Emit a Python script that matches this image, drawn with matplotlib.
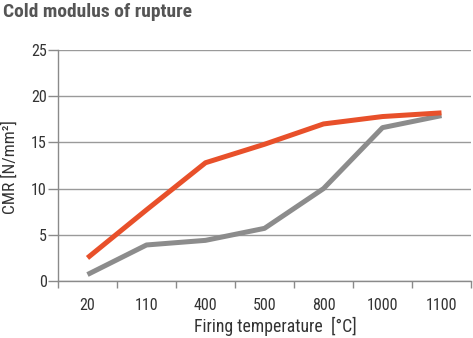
import numpy as np
import matplotlib.pyplot as plt

plt.rcParams['font.family'] = ['Roboto Condensed', 'DejaVu Sans']

temps = ['20', '110', '400', '500', '800', '1000', '1100']
cmr_orange = [2.5, 7.7, 12.8, 14.8, 17.0, 17.8, 18.2]
cmr_gray = [0.7, 3.9, 4.4, 5.7, 10.0, 16.6, 17.9]
yticks = [0, 5, 10, 15, 20, 25]

fig = plt.figure(figsize=(4.73, 3.38), dpi=100)
ax = fig.add_axes([0.1226, 0.1686, 0.8732, 0.6834])

x = np.arange(len(temps))
ax.plot(x, cmr_gray, color='#8c8c8c', lw=3.6, solid_capstyle='butt', zorder=3)
ax.plot(x, cmr_orange, color='#e8502a', lw=3.6, solid_capstyle='butt', zorder=4)

ax.set_xlim(-0.5, len(temps) - 0.5)
ax.set_ylim(0, 25)
ax.set_yticks(yticks)
ax.set_yticklabels([str(v) for v in yticks])
ax.set_xticks(x)
ax.set_xticklabels(temps)
ax.set_xticks(np.arange(len(temps) + 1) - 0.5, minor=True)

ax.yaxis.grid(True, color='#9a9a9a', lw=1)
ax.set_axisbelow(True)
for s in ['top', 'right']:
    ax.spines[s].set_visible(False)
for s in ['left', 'bottom']:
    ax.spines[s].set_color('#8a8a8a')
    ax.spines[s].set_linewidth(1)

ax.tick_params(axis='y', length=7, width=1, color='#8a8a8a', labelsize=11.5,
               labelcolor='#333333', pad=1)
ax.tick_params(axis='x', which='major', length=0, labelsize=11.5,
               labelcolor='#333333', pad=12)
ax.tick_params(axis='x', which='minor', length=5, width=1, color='#8a8a8a')

ax.set_xlabel('Firing temperature  [°C]', fontsize=12.8, color='#333333')
ax.xaxis.set_label_coords(0.526, -0.155)
ax.set_ylabel('CMR [N/mm²]', fontsize=12.5, color='#333333')
ax.yaxis.set_label_coords(-0.097, 0.495)

fig.text(0.006, 0.99, 'Cold modulus of rupture', fontsize=14, fontweight='bold',
         color='#555555', va='top', ha='left')

fig.savefig('out.png', dpi=100)
